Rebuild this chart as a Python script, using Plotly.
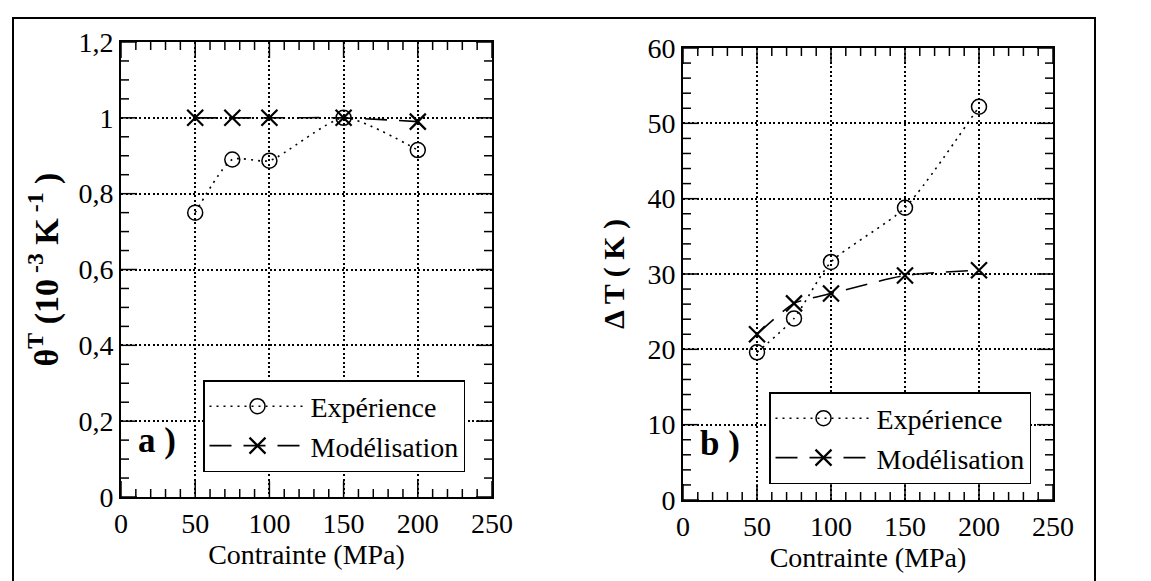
import plotly.graph_objects as go

# Contrainte appliquée (MPa)
stress = [50, 75, 100, 150, 200]

# a) coefficient theta^T (10^-3 K^-1)
theta_exp = [0.75, 0.89, 0.887, 1.0, 0.915]
theta_mod = [1.0, 1.0, 1.0, 1.0, 0.99]

# b) delta T (K)
dT_exp = [19.6, 24.1, 31.6, 38.8, 52.2]
dT_mod = [22.0, 26.1, 27.4, 29.8, 30.5]

W, H = 1151, 581
serif = "Liberation Serif"

fig = go.Figure()

exp_style = dict(mode="lines+markers", line=dict(color="black", width=1.6, dash="2px,5px", shape="spline", smoothing=0.6),
                 marker=dict(symbol="circle-open", size=15, color="black", line=dict(width=1.5)))
mod_style = dict(mode="lines+markers", line=dict(color="black", width=1.6, dash="22px,12px", shape="spline", smoothing=0.6),
                 marker=dict(symbol="x-thin-open", size=16, color="black", line=dict(width=2.2)))

fig.add_trace(go.Scatter(x=stress, y=theta_exp, name="Expérience", xaxis="x", yaxis="y", legend="legend", **exp_style))
fig.add_trace(go.Scatter(x=stress, y=theta_mod, name="Modélisation", xaxis="x", yaxis="y", legend="legend", **mod_style))
fig.add_trace(go.Scatter(x=stress, y=dT_exp, name="Expérience", xaxis="x2", yaxis="y2", legend="legend2", **exp_style))
fig.add_trace(go.Scatter(x=stress, y=dT_mod, name="Modélisation", xaxis="x2", yaxis="y2", legend="legend2", **mod_style))

box = dict(showline=True, linecolor="black", linewidth=2, mirror=True, ticks="", zeroline=False,
           showgrid=True, gridcolor="black", gridwidth=1.6, griddash="2px,2.5px", automargin=False)


def xax(domain, anchor):
    return dict(domain=domain, anchor=anchor, range=[0, 250], dtick=50, tick0=0, **box,
                tickfont=dict(family=serif, size=28, color="black"),
                title=dict(text="Contrainte (MPa)", font=dict(family=serif, size=28, color="black"), standoff=2))


def yax(domain, anchor, rng, dtick, title, standoff, size):
    return dict(domain=domain, anchor=anchor, range=rng, dtick=dtick, tick0=0, **box,
                tickfont=dict(family=serif, size=28, color="black"),
                title=dict(text=title, font=dict(family=serif, size=size, color="black"), standoff=standoff))


legend_style = dict(xanchor="left", yanchor="top", bgcolor="white", bordercolor="black", borderwidth=1.5,
                    font=dict(family=serif, size=28, color="black"), itemwidth=96, tracegroupgap=0)

fig.update_layout(
    template="none",
    width=W, height=H,
    margin=dict(l=0, r=0, t=0, b=0),
    paper_bgcolor="white", plot_bgcolor="white",
    separators=", ",
    font=dict(family=serif, color="black"),
    xaxis=xax([113 / W, 484 / W], "y"),
    yaxis=yax([1 - 489 / H, 1 - 34 / H], "x", [0, 1.2], 0.2,
              "<b>θ<sup>T</sup> (10<sup> -3</sup> K<sup> -1</sup> )</b>", 10, 34),
    xaxis2=xax([675 / W, 1045 / W], "y2"),
    yaxis2=yax([1 - 492 / H, 1 - 40 / H], "x2", [0, 60], 10, "<b>Δ T ( K )</b>", 14, 30),
    legend=dict(x=195 / W, y=1 - 372 / H, **legend_style),
    legend2=dict(x=761 / W, y=1 - 384 / H, **legend_style),
    showlegend=True,
)


# graduations intérieures sur les quatre côtés (grandes tous les "major", petites sinon)
def add_ticks(xa, ya, n_x, step_x, major_x, n_y, step_y, major_y):
    tl = dict(color="black", width=1.5)
    for i in range(n_x + 1):
        v = i * step_x
        ln = 16 if i % major_x == 0 else 8
        for anchor, sign in ((0, 1), (1, -1)):
            fig.add_shape(type="line", xref=xa, yref=ya + " domain", ysizemode="pixel", yanchor=anchor,
                          x0=v, x1=v, y0=0, y1=sign * ln, line=tl)
    for i in range(n_y + 1):
        v = i * step_y
        ln = 16 if i % major_y == 0 else 8
        for anchor, sign in ((0, 1), (1, -1)):
            fig.add_shape(type="line", xref=xa + " domain", yref=ya, xsizemode="pixel", xanchor=anchor,
                          y0=v, y1=v, x0=0, x1=sign * ln, line=tl)


add_ticks("x", "y", 25, 10, 5, 24, 0.05, 4)
add_ticks("x2", "y2", 25, 10, 5, 30, 2, 5)

# étiquettes des sous-figures
fig.add_annotation(text="<b>a )</b>", x=24, y=0.15, xref="x", yref="y", showarrow=False,
                   font=dict(family=serif, size=35, color="black"))
fig.add_annotation(text="<b>b )</b>", x=25, y=7.5, xref="x2", yref="y2", showarrow=False,
                   font=dict(family=serif, size=35, color="black"))

# cadre autour de la figure
fig.add_shape(type="rect", xref="paper", yref="paper", x0=5 / W, x1=1087 / W, y0=1 - 578 / H, y1=1 - 10 / H,
              line=dict(color="black", width=2))

fig.write_html("out.html")
